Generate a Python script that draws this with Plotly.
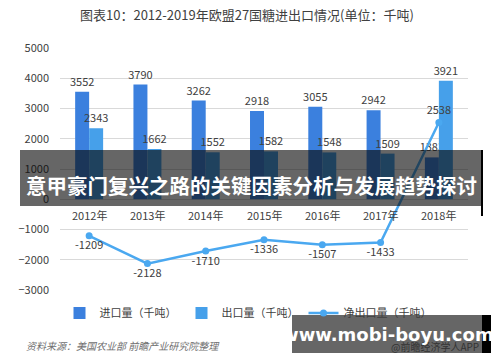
import plotly.graph_objects as go

years = ["2012年", "2013年", "2014年", "2015年", "2016年", "2017年", "2018年"]
imports = [3552, 3790, 3262, 2918, 3055, 2942, 1383]
exports = [2343, 1662, 1552, 1582, 1548, 1509, 3921]
net_exports = [-1209, -2128, -1710, -1336, -1507, -1433, 2538]
y_ticks = [-3000, -2000, -1000, 0, 1000, 2000, 3000, 4000, 5000]

FONT = "Noto Sans CJK SC, Noto Sans, sans-serif"
TXT = "#404040"

# plot area in pixels
L, R, T, B = 60, 468, 48, 290
W, H = 500, 362


def px(x):
    return (x - L) / (R - L)


def py(y):
    return (B - y) / (B - T)


fig = go.Figure()
fig.add_trace(go.Bar(
    x=years, y=imports, name="进口量（千吨）",
    marker=dict(color="#3b80de", line=dict(width=0)),
    text=[str(v) for v in imports], textposition="outside", constraintext="none",
    textfont=dict(size=11, color=TXT, family=FONT), cliponaxis=False,
))
fig.add_trace(go.Bar(
    x=years, y=exports, name="出口量（千吨）",
    marker=dict(color="#46a0ea", line=dict(width=0)),
    text=[str(v) for v in exports], textposition="outside", constraintext="none",
    textfont=dict(size=11, color=TXT, family=FONT), cliponaxis=False,
))
fig.add_trace(go.Scatter(
    x=years, y=net_exports, name="净出口量（千吨）",
    mode="lines+markers+text",
    line=dict(color="#4aa8f0", width=2.5),
    marker=dict(color="#4aa8f0", size=7),
    text=[str(v) for v in net_exports],
    textposition=["bottom center" if v < 0 else "top center" for v in net_exports],
    textfont=dict(size=11, color=TXT, family=FONT), cliponaxis=False,
))

annotations = []
for yr in years:
    annotations.append(dict(
        x=yr, y=0, xref="x", yref="y", text=yr, showarrow=False,
        yanchor="top", yshift=-6, font=dict(size=11, color=TXT, family=FONT),
    ))

annotations += [
    dict(x=px(247), y=py(15), xref="paper", yref="paper", xanchor="center", yanchor="middle",
         text="图表10：2012-2019年欧盟27国糖进出口情况(单位：千吨)", showarrow=False,
         font=dict(size=13, color=TXT, family=FONT)),
    dict(x=px(24), y=py(345), xref="paper", yref="paper", xanchor="left", yanchor="middle",
         text="<i>资料来源：美国农业部 前瞻产业研究院整理</i>", showarrow=False,
         font=dict(size=10, color="#707070", family=FONT)),
    dict(x=px(481), y=py(346), xref="paper", yref="paper", xanchor="right", yanchor="middle",
         text="@前瞻经济学人APP", showarrow=False,
         font=dict(size=10, color="#333333", family=FONT)),
]

shapes = [
    dict(type="rect", xref="paper", yref="paper", x0=px(20), x1=px(482), y0=py(206), y1=py(150),
         fillcolor="rgba(8,8,8,0.62)", line=dict(width=0), layer="above"),
    dict(type="line", xref="paper", yref="paper", x0=px(482), x1=px(482), y0=py(216), y1=py(150),
         line=dict(color="black", width=2), layer="above"),
    dict(type="rect", xref="paper", yref="paper", x0=px(292), x1=px(482), y0=py(353), y1=py(315),
         fillcolor="rgba(8,8,8,0.62)", line=dict(width=0), layer="above"),
    dict(type="rect", xref="paper", yref="paper", x0=px(482), x1=px(491), y0=py(353), y1=py(315),
         fillcolor="black", line=dict(width=0), layer="above"),
]

fig.update_layout(
    annotations=annotations, shapes=shapes,
    width=W, height=H,
    margin=dict(l=L, r=W - R, t=T, b=H - B, pad=0, autoexpand=False),
    paper_bgcolor="white", plot_bgcolor="white",
    font=dict(family=FONT, color=TXT, size=11),
    barmode="group", bargap=0.52, bargroupgap=0,
    showlegend=True,
    legend=dict(orientation="h", x=px(248), xanchor="center", y=py(313), yanchor="middle",
                font=dict(size=11, color=TXT, family=FONT), itemwidth=30,
                bgcolor="rgba(0,0,0,0)"),
    xaxis=dict(showticklabels=False, showgrid=False, zeroline=False, showline=False, ticks="",
               automargin=False),
    yaxis=dict(range=[-3000, 5000], tickvals=y_ticks, showgrid=True, gridcolor="#d9d9d9",
               gridwidth=1, zeroline=True, zerolinecolor="#d9d9d9", zerolinewidth=1,
               showline=False, ticks="", ticklabelstandoff=10, automargin=False,
               tickfont=dict(size=11, color=TXT, family=FONT)),
)

fig.add_annotation(x=px(251), y=py(185), xref="paper", yref="paper", xanchor="center", yanchor="middle",
                   text="<b>意甲豪门复兴之路的关键因素分析与发展趋势探讨</b>", showarrow=False,
                   font=dict(size=20.5, color="white", family=FONT))
fig.add_annotation(x=px(388), y=py(334), xref="paper", yref="paper", xanchor="center", yanchor="middle",
                   text="<b>www.mobi-boyu.com</b>", showarrow=False,
                   font=dict(size=18, color="white", family="DejaVu Sans, sans-serif"))

fig.write_html("out.html", config={"displayModeBar": False},
               post_script="document.body.style.margin='0px';")
